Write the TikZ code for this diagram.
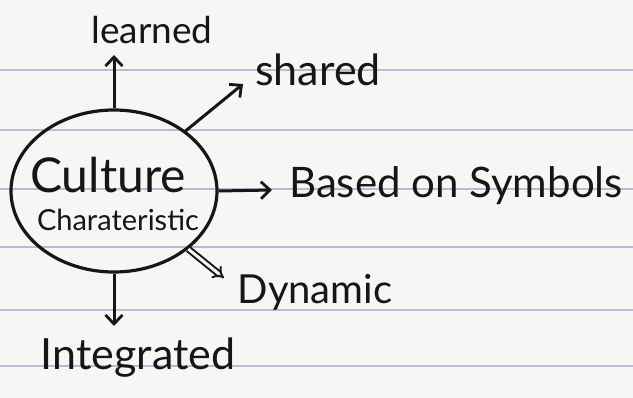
\documentclass[tikz,border=0pt]{standalone}
\usepackage{fontspec}
\setmainfont{Lato}
\usetikzlibrary{shapes.geometric,arrows.meta,arrows}
\definecolor{paper}{RGB}{246,246,244}
\definecolor{rule}{RGB}{180,189,210}
\definecolor{ink}{RGB}{22,22,22}
\tikzset{
  hand/.style={text=ink, inner sep=0pt},
  conn/.style={draw=ink, line width=3pt, -{Straight Barb[length=9pt,width=17pt,line width=2.8pt]}},
  ruled/.style={draw=rule, line width=2pt}
}
\begin{document}
\begin{tikzpicture}[x=1pt,y=-1pt]
\useasboundingbox (0,0) rectangle (633,398);
\fill[paper] (0,0) rectangle (633,398);
\foreach \yy in {70,130,189,247,310,366} \draw[ruled] (0,\yy) -- (633,\yy);
% central circle
\node[ellipse, draw=ink, line width=3.2pt, minimum width=206pt, minimum height=162pt] (c) at (114,191) {};
\node[hand, font=\fontsize{48}{48}\selectfont] (culture) at (108,175) {Culture};
\node[hand, font=\fontsize{29}{29}\selectfont] (charac) at (118,220) {Charateristic};
% outer labels
\node[hand, font=\fontsize{37}{37}\selectfont] (learned) at (152,30) {learned};
\node[hand, font=\fontsize{43}{43}\selectfont] (shared) at (318,70) {shared};
\node[hand, font=\fontsize{42}{42}\selectfont] (based) at (456,186) {Based on Symbols};
\node[hand, font=\fontsize{40}{40}\selectfont] (dynamic) at (315,292) {Dynamic};
\node[hand, font=\fontsize{43}{43}\selectfont] (integ) at (138,358) {Integrated};
% coordinates for free arrow ends
\coordinate (tl) at (114,55);
\coordinate (ts) at (243,84);
\coordinate (tb) at (272,190);
\coordinate (td) at (224,278);
\coordinate (ti) at (114,326);
% connectors
\draw[conn] (c.north) -- (tl);
\draw[conn] (c.40) -- (ts);
\draw[conn] (c.east) -- (tb);
\draw[draw=ink, line width=2pt, double=paper, double distance=3pt, -Implies] (c.-38) -- (td);
\draw[conn] (c.south) -- (ti);
\end{tikzpicture}
\end{document}
